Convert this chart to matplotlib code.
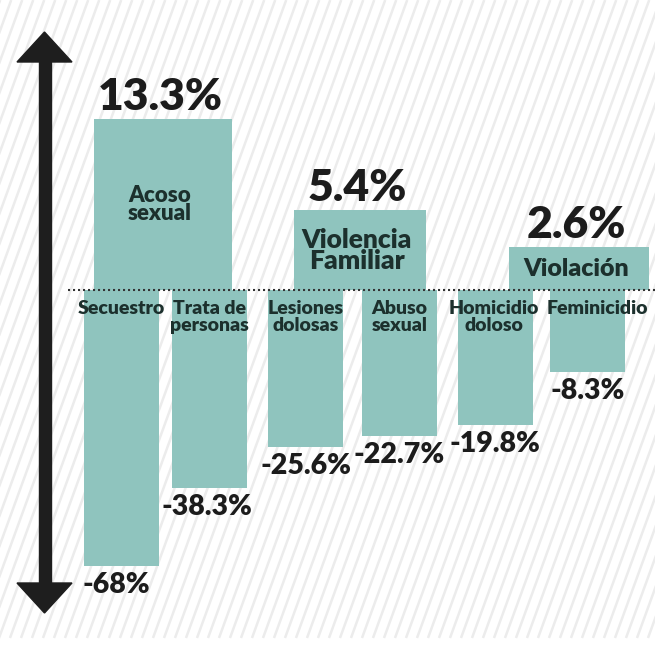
import numpy as np
import matplotlib
matplotlib.use("Agg")
import matplotlib.pyplot as plt
from matplotlib.patches import Polygon, Rectangle

plt.rcParams["font.family"] = ["Lato", "DejaVu Sans"]

POS_LABELS = ["Acoso\nsexual", "Violencia\nFamiliar", "Violación"]
POS_VALUES = [13.3, 5.4, 2.6]
NEG_LABELS = ["Secuestro", "Trata de\npersonas", "Lesiones\ndolosas", "Abuso\nsexual",
              "Homicidio\ndoloso", "Feminicidio"]
NEG_VALUES = [-68, -38.3, -25.6, -22.7, -19.8, -8.3]

# layout (pixel units across the 655 px wide canvas)
POS_X = [163, 360, 579]
POS_W = [138, 132, 140]
POS_LABEL_SIZE = [16, 19, 18]
NEG_X = [121, 209.5, 305.5, 399.5, 495, 587.5]
NEG_W = 75
NEG_LABEL_SHIFT = [0, 0, 0, 0, -1, 10]  # category labels spill past the narrow bars
NEG_VALUE_SHIFT = [-5, -3, 0, 0, 0, 0]

BAR_COLOR = "#8fc4be"
TEXT_COLOR = "#1c302d"
NUM_COLOR = "#1c1c1c"
W, H = 655, 656
BASE_PX = 290  # baseline, from the top


# the graphic is not drawn to a linear scale: compress both sides
def fwd(v):
    v = np.asarray(v, dtype=float)
    a = np.abs(v)
    return np.where(v >= 0, 19.0 * a ** 0.85, -23.9 * a ** 0.58)


def inv(u):
    u = np.asarray(u, dtype=float)
    a = np.abs(u)
    return np.where(u >= 0, (a / 19.0) ** (1 / 0.85), -(a / 23.9) ** (1 / 0.58))


fig = plt.figure(figsize=(W / 100, H / 100), dpi=100)

# background stripes + arrow (decoration, pixel coords)
bg = fig.add_axes([0, 0, 1, 1])
bg.set_xlim(0, W)
bg.set_ylim(H, 0)
bg.axis("off")
stripe_bottom = 638
dx = stripe_bottom / np.tan(np.radians(70))
for x0 in np.arange(-320, W + 10, 11):
    bg.plot([x0, x0 + dx], [stripe_bottom, 0], color="#ececec", lw=1.8,
            solid_capstyle="butt", zorder=0)

ARROW = "#1e1e1e"
bg.add_patch(Rectangle((39, 58), 12, 530, color=ARROW, zorder=2))
bg.add_patch(Polygon([(17, 62), (72, 62), (44.5, 32)], closed=True, color=ARROW, zorder=2))
bg.add_patch(Polygon([(17, 583), (72, 583), (44.5, 613)], closed=True, color=ARROW, zorder=2))

# bars
ax = fig.add_axes([0, 0, 1, 1])
ax.patch.set_alpha(0)
ax.set_yscale("function", functions=(fwd, inv))
ax.set_xlim(0, W)
ax.set_ylim(float(inv(-(H - BASE_PX))), float(inv(BASE_PX)))
ax.axis("off")

ax.bar(POS_X, POS_VALUES, width=POS_W, color=BAR_COLOR, zorder=2)
ax.bar(NEG_X, NEG_VALUES, width=NEG_W, color=BAR_COLOR, zorder=2)
ax.plot([68, W], [0, 0], color="#333333", lw=1.5, linestyle=(0, (1, 1.4)), zorder=3)

for x, v, lab, fs in zip(POS_X, POS_VALUES, POS_LABELS, POS_LABEL_SIZE):
    ax.annotate(f"{v:g}%", xy=(x, v), xytext=(-2, 6.5), textcoords="offset points",
                ha="center", va="baseline", fontsize=32, fontweight="heavy", color=NUM_COLOR)
    ax.text(x - 3, float(inv(fwd(v) / 2)), lab, ha="center", va="center", fontsize=fs,
            fontweight="heavy", color=TEXT_COLOR, linespacing=0.85, zorder=4)

for x, v, lab, ls, vs in zip(NEG_X, NEG_VALUES, NEG_LABELS, NEG_LABEL_SHIFT, NEG_VALUE_SHIFT):
    ax.annotate(lab, xy=(x + ls, 0), xytext=(0, -7.5), textcoords="offset points",
                ha="center", va="top", fontsize=14, fontweight="heavy", color=TEXT_COLOR,
                linespacing=1.0, zorder=4)
    ax.annotate(f"{v:g}%", xy=(x + vs, v), xytext=(0, -19.5), textcoords="offset points",
                ha="center", va="baseline", fontsize=20.5, fontweight="heavy", color=NUM_COLOR)

fig.savefig("out.png", dpi=100)
